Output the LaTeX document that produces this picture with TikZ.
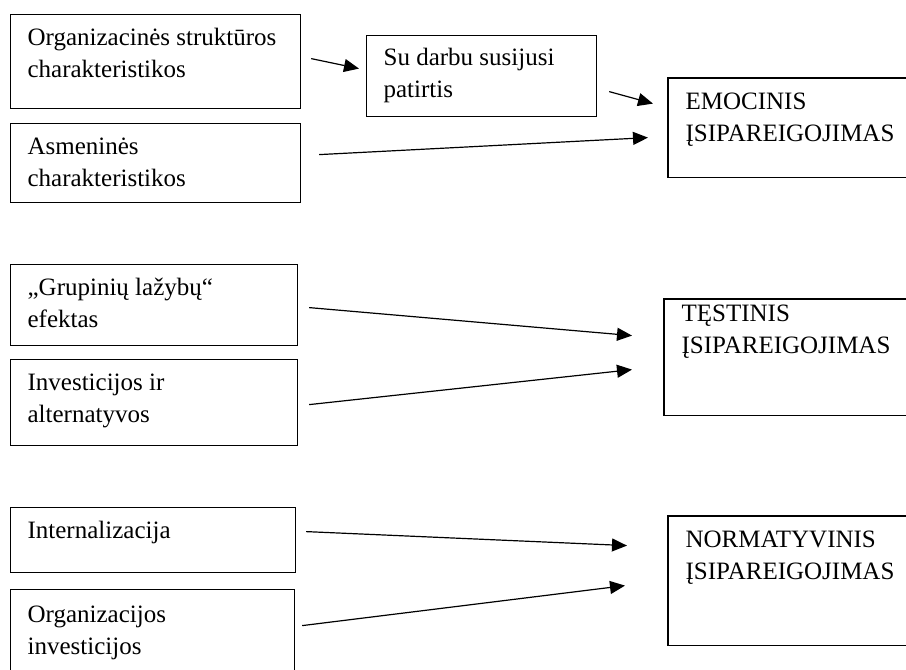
\documentclass[tikz,border=0pt]{standalone}
\usepackage{fontspec}
\setmainfont{Liberation Serif}
\usetikzlibrary{arrows.meta}

% text block inside a box: width, height, top gap, text
\newcommand{\boxtxt}[4]{\parbox[t][#2][t]{#1}{\vspace*{#3}\strut #4}}

\begin{document}
\begin{tikzpicture}[x=0.5pt,y=-0.5pt,
    every node/.style={font=\fontsize{12.5pt}{15.75pt}\selectfont},
    box/.style={draw, line width=0.6pt, anchor=north west, inner xsep=8.5pt, inner ysep=0pt},
    cutbox/.style={box, draw=none},
    arr/.style={-{Triangle[length=7.5pt,width=6.5pt]}, line width=0.6pt}]
        \useasboundingbox (0,0) rectangle (906,670);
        \clip (0,0) rectangle (906,670);
        % emocinis
        \node[box] (orgstrukt) at (10,14) {\boxtxt{128pt}{47pt}{4.5pt}{Organizacinės struktūros\\charakteristikos}};
        \node[box] (asmen) at (10,123) {\boxtxt{128pt}{39.5pt}{4.5pt}{Asmeninės\\charakteristikos}};
        \node[box] (patirtis) at (366,35) {\boxtxt{98pt}{40.5pt}{4pt}{Su darbu susijusi\\patirtis}};
        \node[cutbox] (emoc) at (668,78) {\boxtxt{150pt}{49pt}{4.5pt}{EMOCINIS\\ĮSIPAREIGOJIMAS}};
        \draw[line width=0.6pt] (emoc.north east) -- (emoc.north west) -- (emoc.south west) -- (emoc.south east);
        \draw[arr] ([shift={(10,-3)}]orgstrukt.east) -- ([shift={(-7,-7.5)}]patirtis.west);
        \draw[arr] ([shift={(12,15.5)}]patirtis.east) -- ([shift={(-15,-24)}]emoc.west);
        \draw[arr] ([shift={(18,-8.5)}]asmen.east) -- ([shift={(-20,10)}]emoc.west);

        % testinis
        \node[box] (grupin) at (10,264) {\boxtxt{126.5pt}{40.5pt}{4.5pt}{„Grupinių lažybų“\\efektas}};
        \node[box] (invest) at (10,359) {\boxtxt{126.5pt}{43pt}{4.5pt}{Investicijos ir\\alternatyvos}};
        \node[cutbox] (testin) at (664,299) {\boxtxt{150pt}{57.5pt}{0pt}{TĘSTINIS\\ĮSIPAREIGOJIMAS}};
        \draw[line width=0.6pt] (testin.north east) -- (testin.north west) -- (testin.south west) -- (testin.south east);
        \draw[arr] ([shift={(11,2.5)}]grupin.east) -- ([shift={(-32,-21.5)}]testin.west);
        \draw[arr] ([shift={(11,2)}]invest.east) -- ([shift={(-32,12.5)}]testin.west);

        % normatyvinis
        \node[box] (internal) at (10,507) {\boxtxt{125.5pt}{32.5pt}{4.5pt}{Internalizacija}};
        \node[box] (orginvest) at (10,589) {\boxtxt{125pt}{45pt}{5.5pt}{Organizacijos\\investicijos}};
        \node[cutbox] (normat) at (668,516) {\boxtxt{150pt}{64pt}{4.5pt}{NORMATYVINIS\\ĮSIPAREIGOJIMAS}};
        \draw[line width=0.6pt] (normat.north east) -- (normat.north west) -- (normat.south west) -- (normat.south east);
        \draw[arr] ([shift={(10,-8.5)}]internal.east) -- ([shift={(-41,-35)}]normat.west);
        \draw[arr] ([shift={(7,-9)}]orginvest.east) -- ([shift={(-43,5)}]normat.west);
\end{tikzpicture}
\end{document}
